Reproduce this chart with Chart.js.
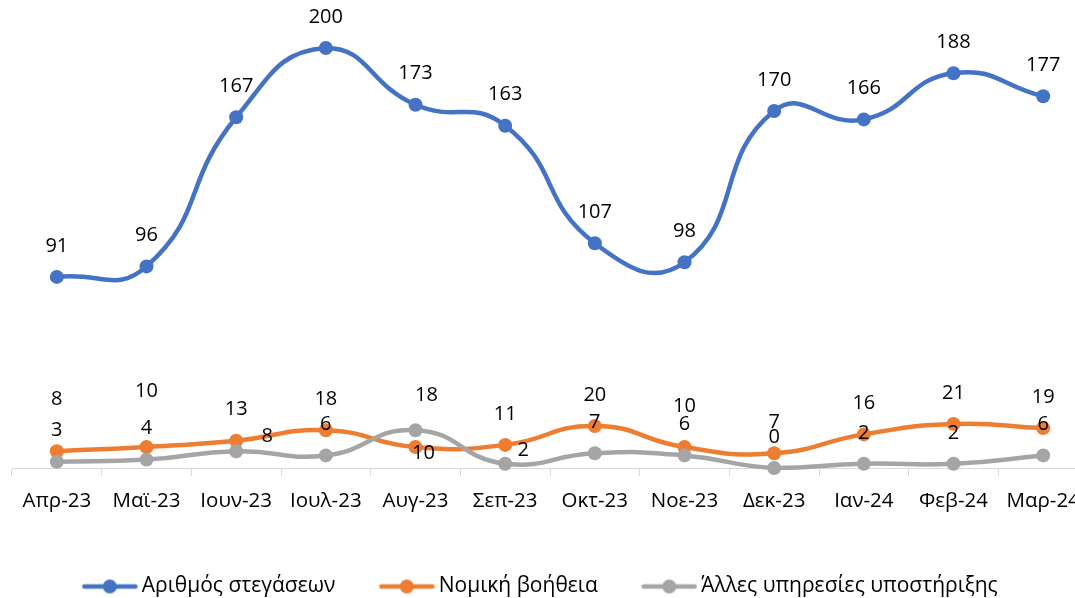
<!DOCTYPE html>
<html><head><meta charset="utf-8">
<script src="https://cdn.jsdelivr.net/npm/chart.js@4.4.1/dist/chart.umd.min.js"></script>
<style>
html,body{margin:0;padding:0;overflow:hidden;background:#fff;width:1075px;height:598px;}
#wrap{position:absolute;left:0;top:0;width:1100px;height:607px;}
canvas{display:block;}
</style></head><body>
<div id="wrap"><canvas id="c" width="1100" height="607"></canvas></div>
<script>
const categories = ['Απρ-23','Μαϊ-23','Ιουν-23','Ιουλ-23','Αυγ-23','Σεπ-23','Οκτ-23','Νοε-23','Δεκ-23','Ιαν-24','Φεβ-24','Μαρ-24'];
const housing = [91, 96, 167, 200, 173, 163, 107, 98, 170, 166, 188, 177];
const legalAid = [8, 10, 13, 18, 10, 11, 20, 10, 7, 16, 21, 19];
const otherSupport = [3, 4, 8, 6, 18, 2, 7, 6, 0, 2, 2, 6];
const seriesNames = ['Αριθμός στεγάσεων', 'Νομική βοήθεια', 'Άλλες υπηρεσίες υποστήριξης'];
const seriesColors = ['#4472C4', '#ED7D31', '#A5A5A5'];

Chart.defaults.font.family = "'Open Sans', 'Noto Sans', sans-serif";
Chart.defaults.font.size = 20;
Chart.defaults.color = '#000';

function legendImg(color){
  const c = document.createElement('canvas');
  c.width = 56; c.height = 16;
  const g = c.getContext('2d');
  g.strokeStyle = color; g.lineWidth = 4.5; g.lineCap = 'round';
  g.beginPath(); g.moveTo(2.5, 8); g.lineTo(53.5, 8); g.stroke();
  g.fillStyle = color; g.beginPath(); g.arc(28, 8, 7, 0, Math.PI*2); g.fill();
  return c;
}
const legendImgs = seriesColors.map(legendImg);

const valueLabels = {
  id: 'valueLabels',
  afterDatasetsDraw(chart, args, opts){
    const ctx = chart.ctx;
    ctx.save();
    ctx.font = "20px 'Open Sans', 'Noto Sans', sans-serif";
    ctx.fillStyle = '#000';
    ctx.textAlign = 'center';
    ctx.textBaseline = 'middle';
    chart.data.datasets.forEach((ds, di) => {
      const meta = chart.getDatasetMeta(di);
      const nud = opts.nudges[di] || {};
      meta.data.forEach((pt, i) => {
        const n = nud[i] || [0, 0];
        ctx.fillText(String(ds.data[i]), pt.x + n[0], pt.y + opts.offset + n[1]);
      });
    });
    ctx.restore();
  }
};

const legendShift = {
  id: 'legendShift',
  afterLayout(chart, args, opts){
    if (chart.legend) { chart.legend.left += opts.dx; chart.legend.right += opts.dx; }
  }
};

function mkDataset(i, data, order){
  return {
    label: seriesNames[i], data: data,
    borderColor: seriesColors[i], backgroundColor: seriesColors[i],
    pointBackgroundColor: seriesColors[i], pointBorderColor: seriesColors[i],
    borderWidth: 4.5, pointRadius: 7, pointHoverRadius: 7, pointBorderWidth: 0,
    tension: 0.5, clip: false, order: order, fill: false
  };
}

new Chart(document.getElementById('c'), {
  type: 'line',
  data: {
    labels: categories,
    datasets: [mkDataset(0, housing, 3), mkDataset(1, legalAid, 2), mkDataset(2, otherSupport, 1)]
  },
  options: {
    responsive: false, animation: false,
    layout: { padding: { top: 48, left: 12, right: 12, bottom: 0 } },
    scales: {
      x: {
        offset: true,
        grid: { display: true, offset: true, drawOnChartArea: false, drawTicks: true, tickLength: 8, color: '#D9D9D9', lineWidth: 1 },
        border: { display: true, color: '#D9D9D9', width: 1 },
        ticks: { color: '#000', font: { size: 20.5 }, padding: 13, maxRotation: 0, autoSkip: false },
        afterFit(s){ s.height = 58; }
      },
      y: { display: false, min: 0, max: 200 }
    },
    plugins: {
      legend: {
        position: 'bottom',
        labels: {
          usePointStyle: true, pointStyleWidth: 43, padding: 50, color: '#000', font: { size: 21 },
          generateLabels(chart){
            return Chart.defaults.plugins.legend.labels.generateLabels(chart).map(it => Object.assign(it, { pointStyle: legendImgs[it.datasetIndex] }));
          },
          sort(a, b){ return a.datasetIndex - b.datasetIndex; }
        }
      },
      legendShift: { dx: -7 },
      tooltip: { enabled: false },
      valueLabels: {
        offset: -31,
        nudges: {
          1: { 0: [0, -21], 1: [0, -25], 4: [8, 37], 7: [0, -10] },
          2: { 2: [31, 16], 4: [11, -4], 5: [18, 17] }
        }
      }
    }
  },
  plugins: [valueLabels, legendShift]
});
</script>
</body></html>
